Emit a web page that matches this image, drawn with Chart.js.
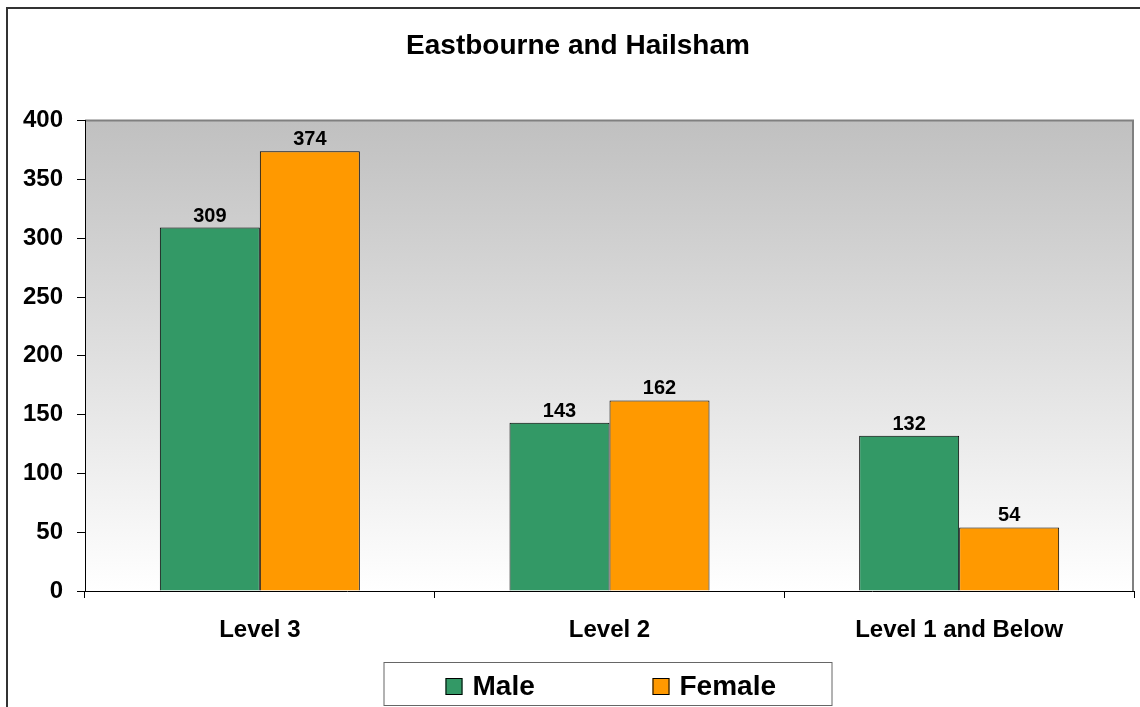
<!DOCTYPE html>
<html>
<head>
<meta charset="utf-8">
<title>Eastbourne and Hailsham</title>
<script src="https://cdn.jsdelivr.net/npm/chart.js@4/dist/chart.umd.min.js"></script>
<style>
  html, body { margin: 0; padding: 0; background: #fff; }
  canvas { display: block; }
</style>
</head>
<body>
<canvas id="chart" width="1140" height="707"></canvas>
<script>
// qualification levels and counts per gender
const levels = ['Level 3', 'Level 2', 'Level 1 and Below'];
const maleCounts = [309, 143, 132];
const femaleCounts = [374, 162, 54];

const FONT = '"Liberation Sans", Arial, sans-serif';

// white page, dark frame round it and grey gradient behind the bars
const backdrop = {
    id: 'backdrop',
    afterLayout(chart) {
        // nudge the title a little right of the canvas centre
        const t = chart.titleBlock;
        if (t) { t.left += 11; t.right += 11; }
    },
    beforeDraw(chart) {
        const c = chart.ctx;
        const a = chart.chartArea;
        c.save();
        c.fillStyle = '#fff';
        c.fillRect(0, 0, chart.width, chart.height);
        c.strokeStyle = '#333';
        c.lineWidth = 2;
        c.strokeRect(7, 8, chart.width + 20, chart.height + 20);
        const g = c.createLinearGradient(0, a.top, 0, a.bottom);
        g.addColorStop(0, '#c0c0c0');
        g.addColorStop(1, '#ffffff');
        c.fillStyle = g;
        c.fillRect(a.left, a.top, a.right - a.left, a.bottom - a.top);
        // grey edge on top and right of the plot
        c.strokeStyle = '#808080';
        c.lineWidth = 2;
        c.beginPath();
        c.moveTo(a.left, a.top);
        c.lineTo(a.right - 1, a.top);
        c.lineTo(a.right - 1, a.bottom);
        c.stroke();
        c.restore();
    }
};

// value above each bar
const barValues = {
    id: 'barValues',
    afterDatasetsDraw(chart) {
        const c = chart.ctx;
        c.save();
        c.font = 'bold 20px ' + FONT;
        c.fillStyle = '#000';
        c.textAlign = 'center';
        c.textBaseline = 'alphabetic';
        chart.data.datasets.forEach((ds, i) => {
            chart.getDatasetMeta(i).data.forEach((bar, j) => {
                c.fillText(ds.data[j], bar.x, bar.y - 6);
            });
        });
        c.restore();
    }
};

// boxed legend under the axis
const boxLegend = {
    id: 'boxLegend',
    afterDraw(chart) {
        const c = chart.ctx;
        const mid = (chart.chartArea.left + chart.chartArea.right) / 2;
        const left = mid - 226;
        c.save();
        c.strokeStyle = '#666';
        c.lineWidth = 1;
        c.strokeRect(left + 0.5, 662.5, 448, 43);
        c.font = 'bold 28px ' + FONT;
        c.textBaseline = 'alphabetic';
        const slots = [62, 269];
        chart.data.datasets.forEach((ds, i) => {
            const x = left + slots[i];
            c.fillStyle = ds.backgroundColor;
            c.fillRect(x, 678, 17, 17);
            c.strokeStyle = '#000';
            c.strokeRect(x + 0.5, 678.5, 16, 16);
            c.fillStyle = '#000';
            c.fillText(ds.label, x + 27, 695);
        });
        c.restore();
    }
};

new Chart(document.getElementById('chart'), {
    type: 'bar',
    data: {
        labels: levels,
        datasets: [{
            label: 'Male',
            data: maleCounts,
            backgroundColor: '#339966',
            borderColor: '#000',
            borderWidth: 1,
        }, {
            label: 'Female',
            data: femaleCounts,
            backgroundColor: '#ff9900',
            borderColor: '#000',
            borderWidth: 1,
        }]
    },
    options: {
        responsive: false,
        animation: false,
        devicePixelRatio: 1,
        categoryPercentage: 0.572,
        barPercentage: 1,
        layout: {
            padding: {left: 0, right: 6, top: 0, bottom: 56}
        },
        plugins: {
            legend: {display: false},
            tooltip: {enabled: false},
            title: {
                display: true,
                text: 'Eastbourne and Hailsham',
                color: '#000',
                font: {family: FONT, size: 28, weight: 'bold', lineHeight: 1.2},
                padding: {top: 29, bottom: 58}
            }
        },
        scales: {
            x: {
                grid: {drawOnChartArea: false, tickLength: 7, color: '#000', offset: true},
                border: {color: '#000', width: 1},
                ticks: {
                    color: '#000',
                    padding: 18,
                    maxRotation: 0,
                    font: {family: FONT, size: 24, weight: 'bold'}
                },
                afterFit(scale) { scale.height = 60; }
            },
            y: {
                min: 0,
                max: 400,
                grid: {drawOnChartArea: false, tickLength: 8, color: '#000'},
                border: {color: '#000', width: 1},
                ticks: {
                    stepSize: 50,
                    color: '#000',
                    padding: 14,
                    font: {family: FONT, size: 24, weight: 'bold'}
                },
                afterFit(scale) { scale.width = 85; }
            }
        }
    },
    plugins: [backdrop, barValues, boxLegend]
});
</script>
</body>
</html>
